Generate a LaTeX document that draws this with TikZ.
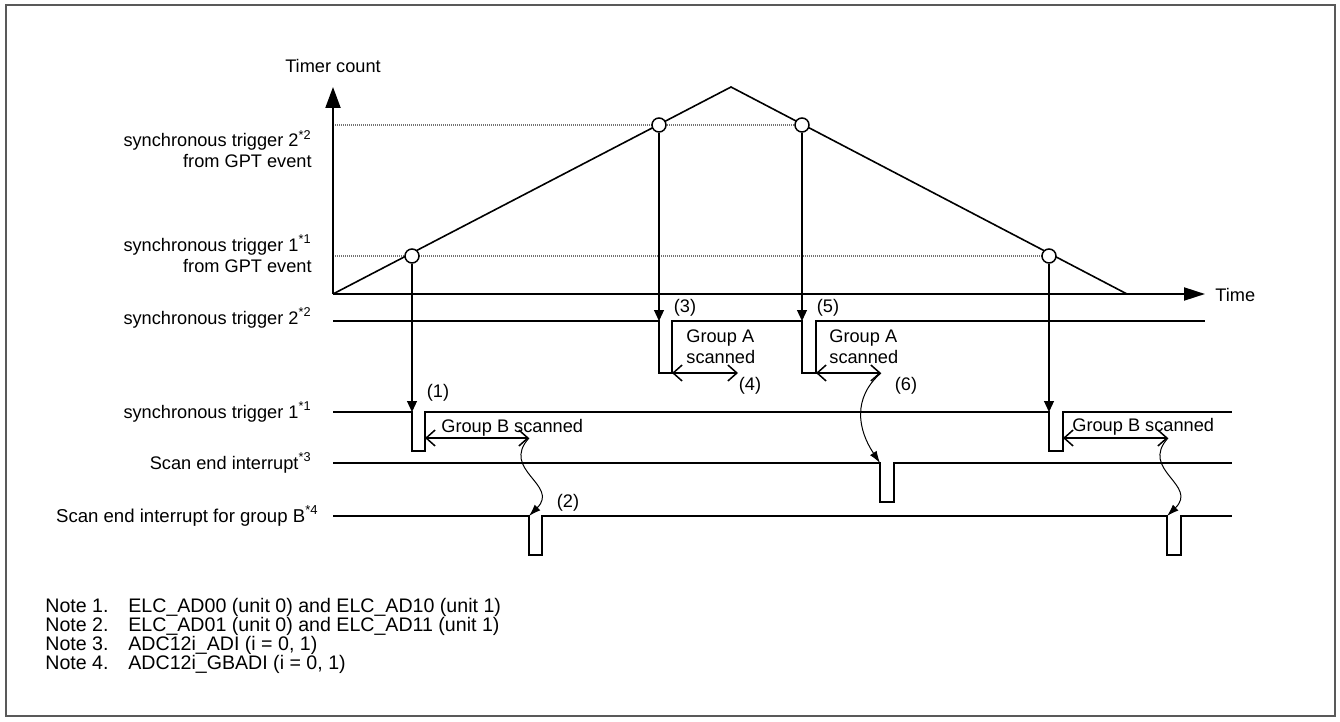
\documentclass[tikz,border=0pt]{standalone}
\usepackage{fontspec}
\setmainfont{Liberation Sans}
\usetikzlibrary{arrows.meta}
\begin{document}
\begin{tikzpicture}[x=0.5pt,y=-0.5pt,
  every node/.style={font=\fontsize{9.1}{11}\selectfont, inner sep=0pt},
  frame/.style={draw=black!65, line width=1pt},
  axis/.style={line width=1pt},
  ramp/.style={line width=0.8pt, line join=miter},
  level/.style={draw=black!55, line width=0.6pt, dash pattern=on 0.6pt off 0.4pt},
  sig/.style={line width=1pt, line join=miter},
  trig/.style={line width=0.6pt, -{Triangle[length=5.5pt,width=5pt]}},
  span/.style={line width=0.75pt, {Straight Barb[length=4.5pt,width=8pt]}-{Straight Barb[length=4.5pt,width=8pt]}},
  wave/.style={line width=0.5pt, -{Latex[length=6pt,width=4pt]}},
  lbl/.style={anchor=base east},
  txt/.style={anchor=base west},
  note/.style={anchor=base west, font=\fontsize{9.8}{12}\selectfont},
  ptnode/.style={circle, draw, fill=white, line width=0.75pt, minimum size=7pt}
]
\useasboundingbox (0,0) rectangle (1340,722);
\draw[frame] (6,5) rectangle (1335,716);

% axes and ramp
\coordinate (O) at (333,294);
\coordinate (Ytip) at (333,87);
\coordinate (Xtip) at (1205,294);
\coordinate (Peak) at (731,87);
\coordinate (End) at (1127,294);

\draw[level] (333,125) -- (802,125);
\draw[level] (333,256) -- (1049,256);
\draw[ramp] (O) -- (Peak) -- (End);
\draw[axis, -{Triangle[length=10.5pt,width=7.5pt]}] (O) -- (Ytip);
\draw[axis, -{Triangle[length=10.5pt,width=6.5pt]}] (O) -- (Xtip);

\node[ptnode] (c1) at (412,256) {};
\node[ptnode] (c2) at (659,125) {};
\node[ptnode] (c3) at (802,125) {};
\node[ptnode] (c4) at (1049,256) {};

\node[anchor=base] (tc) at (333,73) {Timer count};
\node[txt] (time) at (1215,301) {Time};

% left labels
\node[lbl] (l2a) at (312,147) {synchronous trigger 2\textsuperscript{*2}};
\node[lbl] (l2b) at (312,168) {from GPT event};
\node[lbl] (l1a) at (312,251) {synchronous trigger 1\textsuperscript{*1}};
\node[lbl] (l1b) at (312,272) {from GPT event};
\node[lbl] (s2l) at (312,324) {synchronous trigger 2\textsuperscript{*2}};
\node[lbl] (s1l) at (312,418) {synchronous trigger 1\textsuperscript{*1}};
\node[lbl] (sel) at (312,469) {Scan end interrupt\textsuperscript{*3}};
\node[lbl, font=\fontsize{9.3}{11}\selectfont] (sbl) at (319,522) {Scan end interrupt for group B\textsuperscript{*4}};

% signals
\coordinate (t2a) at (659,321);
\coordinate (t2b) at (802,321);
\coordinate (t1a) at (412,412);
\coordinate (t1b) at (1049,412);
\draw[sig] (333,321) -- (t2a) -- (659,373) -- (672,373) -- (672,321) -- (t2b) -- (802,373) -- (816,373) -- (816,321) -- (1205,321);
\draw[sig] (333,412) -- (t1a) -- (412,451) -- (425,451) -- (425,412) -- (t1b) -- (1049,451) -- (1063,451) -- (1063,412) -- (1232,412);
\coordinate (se) at (880,463);
\draw[sig] (333,463) -- (se) -- (880,502) -- (894,502) -- (894,463) -- (1232,463);
\coordinate (gbp1) at (529,516);
\coordinate (gbp2) at (1167,516);
\draw[sig] (333,516) -- (gbp1) -- (529,555) -- (542,555) -- (542,516) -- (gbp2) -- (1167,555) -- (1181,555) -- (1181,516) -- (1232,516);

% trigger arrows
\draw[trig] (c1.south) -- (t1a);
\draw[trig] (c2.south) -- (t2a);
\draw[trig] (c3.south) -- (t2b);
\draw[trig] (c4.south) -- (t1b);

% scan spans
\coordinate (b1s) at (425,438);
\coordinate (b1e) at (529,438);
\coordinate (a1s) at (672,373);
\coordinate (a1e) at (738,373);
\coordinate (a2s) at (816,373);
\coordinate (a2e) at (881,373);
\coordinate (b2s) at (1063,438);
\coordinate (b2e) at (1168,438);
\draw[span] (b1s) -- (b1e);
\draw[span] (a1s) -- (a1e);
\draw[span] (a2s) -- (a2e);
\draw[span] (b2s) -- (b2e);

% wavy arrows
\draw[wave] (b1e) .. controls (500,470) and (560,485) .. (gbp1);
\draw[wave] (a2e) .. controls (852,398) and (858,430) .. (se);
\draw[wave] (b2e) .. controls (1139,470) and (1199,485) .. (gbp2);

% span texts
\node[txt] (gb1) at (441,432) {Group B scanned};
\node[txt] (gb2) at (1072,431) {Group B scanned};
\node[txt] (ga1a) at (686,342) {Group A};
\node[txt] (ga1b) at (686,363) {scanned};
\node[txt] (ga2a) at (829,342) {Group A};
\node[txt] (ga2b) at (829,363) {scanned};

\node (p1) at (438,393) {(1)};
\node (p2) at (568,503) {(2)};
\node (p3) at (685,308) {(3)};
\node (p4) at (750,386) {(4)};
\node (p5) at (828,308) {(5)};
\node (p6) at (906,386) {(6)};

% notes
\node[note] (n1) at (45,612) {Note 1.};
\node[note] (n1t) at (128,612) {ELC\_AD00 (unit 0) and ELC\_AD10 (unit 1)};
\node[note] (n2) at (45,631) {Note 2.};
\node[note] (n2t) at (128,631) {ELC\_AD01 (unit 0) and ELC\_AD11 (unit 1)};
\node[note] (n3) at (45,650) {Note 3.};
\node[note] (n3t) at (128,650) {ADC12i\_ADI (i = 0, 1)};
\node[note] (n4) at (45,669) {Note 4.};
\node[note] (n4t) at (128,669) {ADC12i\_GBADI (i = 0, 1)};
\end{tikzpicture}
\end{document}
